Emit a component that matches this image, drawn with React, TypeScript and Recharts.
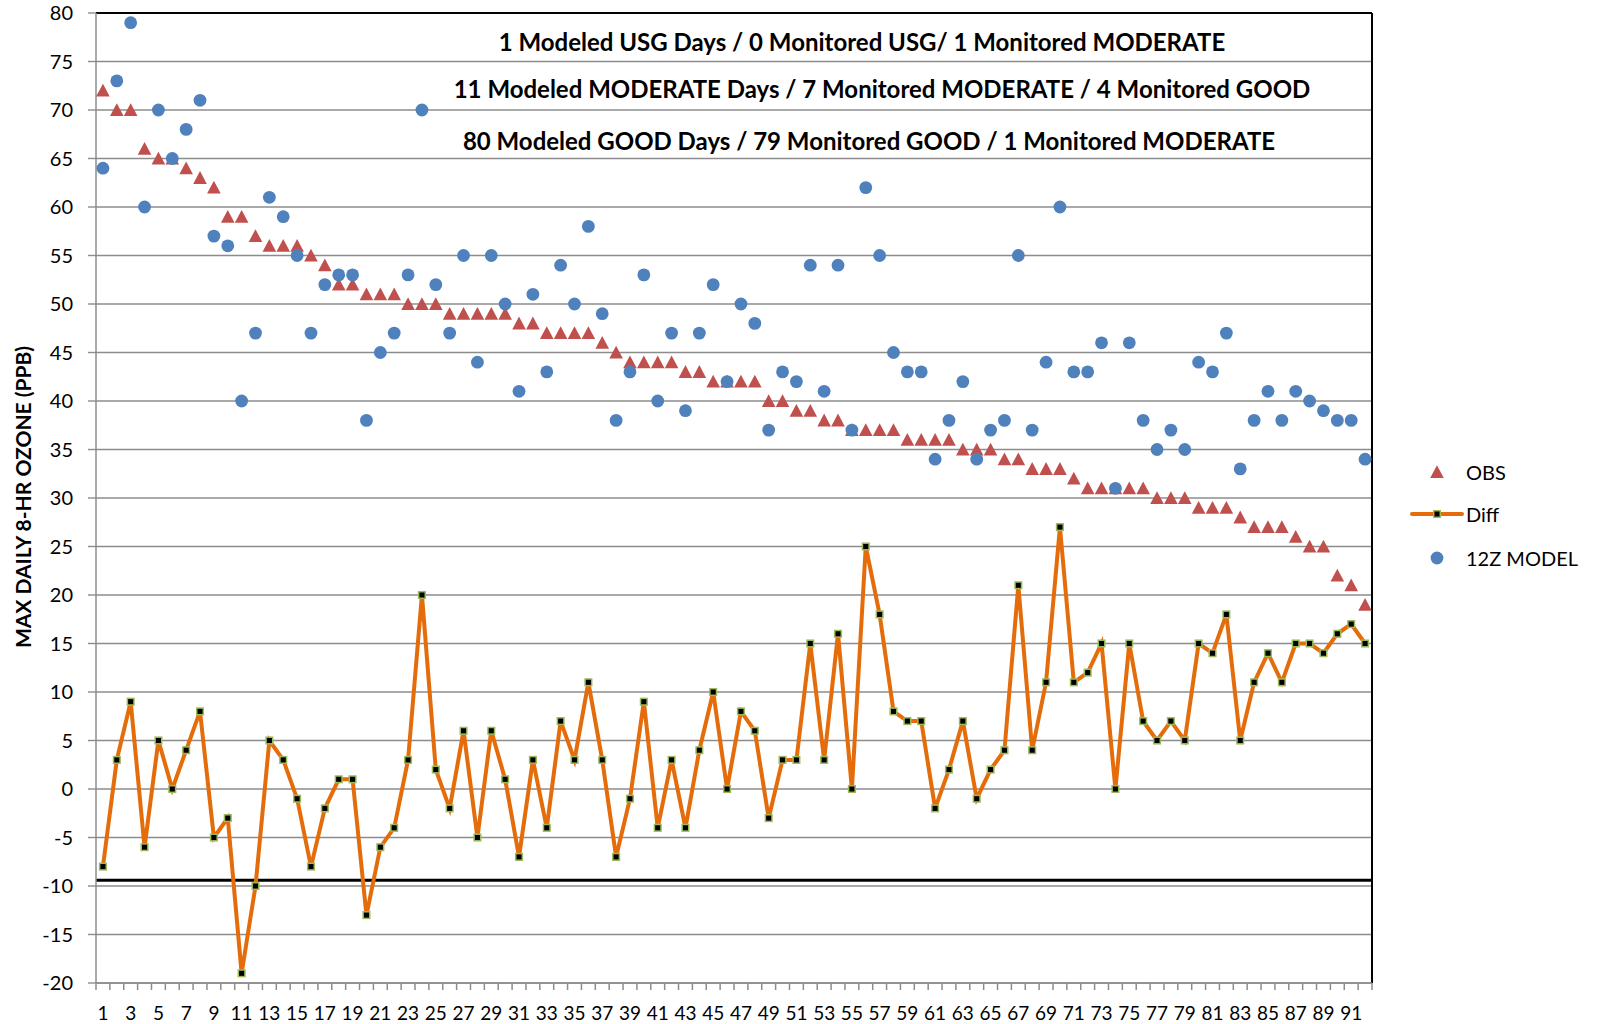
import { ComposedChart, Line, Scatter, XAxis, YAxis, CartesianGrid, ReferenceLine } from "recharts"

const DAYS = [1,2,3,4,5,6,7,8,9,10,11,12,13,14,15,16,17,18,19,20,21,22,23,24,25,26,27,28,29,30,31,32,33,34,35,36,37,38,39,40,41,42,43,44,45,46,47,48,49,50,51,52,53,54,55,56,57,58,59,60,61,62,63,64,65,66,67,68,69,70,71,72,73,74,75,76,77,78,79,80,81,82,83,84,85,86,87,88,89,90,91,92]
const OBS = [72,70,70,66,65,65,64,63,62,59,59,57,56,56,56,55,54,52,52,51,51,51,50,50,50,49,49,49,49,49,48,48,47,47,47,47,46,45,44,44,44,44,43,43,42,42,42,42,40,40,39,39,38,38,37,37,37,37,36,36,36,36,35,35,35,34,34,33,33,33,32,31,31,31,31,31,30,30,30,29,29,29,28,27,27,27,26,25,25,22,21,19]
const MODEL = [64,73,79,60,70,65,68,71,57,56,40,47,61,59,55,47,52,53,53,38,45,47,53,70,52,47,55,44,55,50,41,51,43,54,50,58,49,38,43,53,40,47,39,47,52,42,50,48,37,43,42,54,41,54,37,62,55,45,43,43,34,38,42,34,37,38,55,37,44,60,43,43,46,31,46,38,35,37,35,44,43,47,33,38,41,38,41,40,39,38,38,34]
const DIFF = [-8,3,9,-6,5,0,4,8,-5,-3,-19,-10,5,3,-1,-8,-2,1,1,-13,-6,-4,3,20,2,-2,6,-5,6,1,-7,3,-4,7,3,11,3,-7,-1,9,-4,3,-4,4,10,0,8,6,-3,3,3,15,3,16,0,25,18,8,7,7,-2,2,7,-1,2,4,21,4,11,27,11,12,15,0,15,7,5,7,5,15,14,18,5,11,14,11,15,15,14,16,17,15]

const Y_TICKS = [-20,-15,-10,-5,0,5,10,15,20,25,30,35,40,45,50,55,60,65,70,75,80]
const X_LABELS = [1,3,5,7,9,11,13,15,17,19,21,23,25,27,29,31,33,35,37,39,41,43,45,47,49,51,53,55,57,59,61,63,65,67,69,71,73,75,77,79,81,83,85,87,89,91]
const THRESHOLD = -9.4

const NOTES = [
  "1 Modeled USG Days / 0 Monitored USG/ 1 Monitored MODERATE",
  "11 Modeled MODERATE Days / 7 Monitored MODERATE / 4 Monitored GOOD",
  "80 Modeled GOOD Days / 79 Monitored GOOD / 1 Monitored MODERATE",
]

const RED = "#C0504D"
const BLUE = "#4F81BD"
const ORANGE = "#E46C0A"
const GREEN = "#9BBB59"
const GRID = "#8c8c8c"
const FONT = "Lato"

const data = DAYS.map((d, i) => ({ day: d, obs: OBS[i], model: MODEL[i], diff: DIFF[i] }))
const xTicks = [...DAYS.map(d => d - 0.5), DAYS[DAYS.length - 1] + 0.5, ...X_LABELS].sort((a, b) => a - b)

function XTick(props: any) {
  const { x, y, payload } = props
  const v = payload.value
  if (v % 1 !== 0) return <line x1={x} x2={x} y1={y} y2={y + 7} stroke={GRID} strokeWidth={1.5} />
  return <text x={x} y={y + 37} textAnchor="middle" fontSize={19} fontFamily={FONT} fill="#000">{v}</text>
}

const triangle = (props: any) => {
  const { cx, cy } = props
  return <polygon points={`${cx},${cy - 6.8} ${cx + 6.8},${cy + 6} ${cx - 6.8},${cy + 6}`} fill={RED} />
}
const circle = (props: any) => <circle cx={props.cx} cy={props.cy} r={6.4} fill={BLUE} />
const square = (props: any) => (
  <rect key={props.index} x={props.cx - 3.3} y={props.cy - 3.3} width={6.6} height={6.6} fill="#000" stroke={GREEN} strokeWidth={1.5} />
)

export default function App() {
  return (
    <div style={{ position: "absolute", left: 0, top: 0, width: 1597, height: 1024, background: "#fff" }}>
      <ComposedChart width={1597} height={1024} data={data} margin={{ top: 13, right: 225, bottom: 0, left: 0 }}>
        <CartesianGrid vertical={false} stroke={GRID} strokeWidth={1.4} />
        <XAxis
          dataKey="day" type="number" domain={[0.5, 92.5]} ticks={xTicks} interval={0}
          height={41} tickSize={0} tickMargin={0} tickLine={false} tick={XTick}
          axisLine={{ stroke: GRID, strokeWidth: 1.5 }} allowDataOverflow
        />
        <YAxis
          type="number" domain={[-20, 80]} ticks={Y_TICKS} interval={0} width={96}
          tickSize={8} tickMargin={15} tickLine={{ stroke: GRID, strokeWidth: 1.4 }}
          axisLine={{ stroke: GRID, strokeWidth: 1.5 }}
          tick={{ fontSize: 20, fill: "#000", fontFamily: FONT }}
        />
        <ReferenceLine y={80} stroke="#000" strokeWidth={2} />
        <ReferenceLine x={92.5} stroke="#000" strokeWidth={2} />
        <ReferenceLine y={THRESHOLD} stroke="#000" strokeWidth={3} />
        <Scatter dataKey="obs" shape={triangle} isAnimationActive={false} />
        <Line dataKey="diff" stroke={ORANGE} strokeWidth={4} dot={square} activeDot={false} isAnimationActive={false} />
        <Scatter dataKey="model" shape={circle} isAnimationActive={false} />
      </ComposedChart>
      <svg width={1597} height={1024} style={{ position: "absolute", left: 0, top: 0, pointerEvents: "none" }}>
        <text transform="translate(22,497) rotate(-90)" textAnchor="middle" dominantBaseline="central" fontSize={21} fontWeight="bold" fontFamily={FONT}>MAX DAILY 8-HR OZONE (PPB)</text>
        <text x={862} y={41} textAnchor="middle" dominantBaseline="central" fontSize={24} fontWeight="bold" fontFamily={FONT}>{NOTES[0]}</text>
        <text x={882} y={88} textAnchor="middle" dominantBaseline="central" fontSize={24} fontWeight="bold" fontFamily={FONT}>{NOTES[1]}</text>
        <text x={869} y={140} textAnchor="middle" dominantBaseline="central" fontSize={24} fontWeight="bold" fontFamily={FONT}>{NOTES[2]}</text>
        <polygon points="1437,465.2 1443.8,478 1430.2,478" fill={RED} />
        <text x={1466} y={472} dominantBaseline="central" fontSize={20} fontFamily={FONT}>OBS</text>
        <line x1={1412} x2={1462} y1={514} y2={514} stroke={ORANGE} strokeWidth={4} strokeLinecap="round" />
        <rect x={1433.7} y={510.7} width={6.6} height={6.6} fill="#000" stroke={GREEN} strokeWidth={1.5} />
        <text x={1466} y={514} dominantBaseline="central" fontSize={20} fontFamily={FONT}>Diff</text>
        <circle cx={1437} cy={558} r={6.4} fill={BLUE} />
        <text x={1466} y={558} dominantBaseline="central" fontSize={20} fontFamily={FONT}>12Z MODEL</text>
      </svg>
    </div>
  )
}
